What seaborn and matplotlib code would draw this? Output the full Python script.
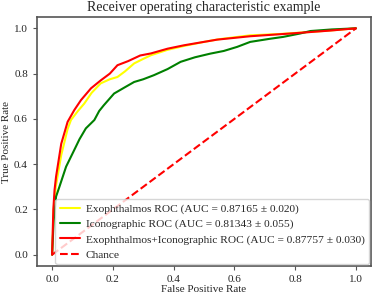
import matplotlib
matplotlib.use("Agg")
import matplotlib.pyplot as plt
import seaborn as sns
import pandas as pd

sns.set_style("white")
plt.rcParams['font.family'] = ['Liberation Serif', 'DejaVu Serif']

# Exophthalmos ROC
exo_fpr = [0.0, 0.005, 0.012, 0.03, 0.051, 0.062, 0.085, 0.106, 0.13, 0.16, 0.19, 0.215, 0.24, 0.27, 0.3, 0.325, 0.38, 0.434, 0.5, 0.55, 0.652, 0.75, 0.85, 0.93, 1.0]
exo_tpr = [0.0, 0.2, 0.3, 0.44, 0.555, 0.595, 0.635, 0.668, 0.715, 0.757, 0.775, 0.785, 0.81, 0.845, 0.865, 0.881, 0.905, 0.922, 0.94, 0.952, 0.969, 0.975, 0.984, 0.992, 1.0]

# Iconographic ROC
ico_fpr = [0.0, 0.005, 0.013, 0.024, 0.046, 0.073, 0.09, 0.111, 0.139, 0.155, 0.17, 0.204, 0.24, 0.27, 0.3, 0.335, 0.38, 0.423, 0.47, 0.52, 0.565, 0.609, 0.652, 0.718, 0.76, 0.816, 0.85, 0.92, 1.0]
ico_tpr = [0.0, 0.15, 0.257, 0.30, 0.389, 0.463, 0.51, 0.558, 0.595, 0.635, 0.66, 0.712, 0.74, 0.763, 0.775, 0.793, 0.82, 0.852, 0.872, 0.888, 0.9, 0.918, 0.94, 0.954, 0.962, 0.977, 0.988, 0.995, 1.0]

# Exophthalmos+Iconographic ROC
cmb_fpr = [0.0, 0.004, 0.008, 0.013, 0.03, 0.051, 0.073, 0.095, 0.128, 0.16, 0.19, 0.215, 0.25, 0.29, 0.325, 0.38, 0.434, 0.543, 0.652, 0.784, 0.915, 1.0]
cmb_tpr = [0.0, 0.2, 0.286, 0.345, 0.49, 0.587, 0.639, 0.683, 0.735, 0.77, 0.8, 0.837, 0.855, 0.88, 0.889, 0.91, 0.925, 0.95, 0.965, 0.977, 0.99, 1.0]

chance_x = [0.0, 1.0]
chance_y = [0.0, 1.0]

labels = [
    "Exophthalmos ROC (AUC = 0.87165 \u00b1 0.020)",
    "Iconographic ROC (AUC = 0.81343 \u00b1 0.055)",
    "Exophthalmos+Iconographic ROC (AUC = 0.87757 \u00b1 0.030)",
    "Chance",
]
colors = ["yellow", "green", "red"]

fig = plt.figure(figsize=(3.73, 2.93), dpi=100)
ax = fig.add_axes([0.099, 0.092, 0.896, 0.85])

for fpr, tpr, lab, col in zip([exo_fpr, ico_fpr, cmb_fpr], [exo_tpr, ico_tpr, cmb_tpr], labels[:3], colors):
    df = pd.DataFrame({"fpr": fpr, "tpr": tpr})
    sns.lineplot(data=df, x="fpr", y="tpr", ax=ax, color=col, lw=1.5, label=lab,
                 sort=False, estimator=None)

df_c = pd.DataFrame({"x": chance_x, "y": chance_y})
sns.lineplot(data=df_c, x="x", y="y", ax=ax, color="red", lw=1.5, ls="--", label=labels[3])

ax.set_xlim(-0.05, 1.05)
ax.set_ylim(-0.05, 1.05)
ax.set_xticks([0.0, 0.2, 0.4, 0.6, 0.8, 1.0])
ax.set_yticks([0.0, 0.2, 0.4, 0.6, 0.8, 1.0])
ax.tick_params(axis='both', labelsize=8, length=3, width=0.8, color='#555555', left=True, bottom=True)
ax.set_xlabel("False Positive Rate", fontsize=8, labelpad=1)
ax.set_ylabel("True Positive Rate", fontsize=8, labelpad=2)
ax.set_title("Receiver operating characteristic example", fontsize=10, pad=4)
for s in ax.spines.values():
    s.set_color('#555555')
    s.set_linewidth(1.2)
ax.legend(loc="lower right", fontsize=8.2, labelspacing=0.45, handlelength=1.8,
          handletextpad=0.5, borderpad=0.4, borderaxespad=0.15,
          framealpha=0.8, edgecolor='#cccccc')

fig.savefig("out.png", dpi=100)
